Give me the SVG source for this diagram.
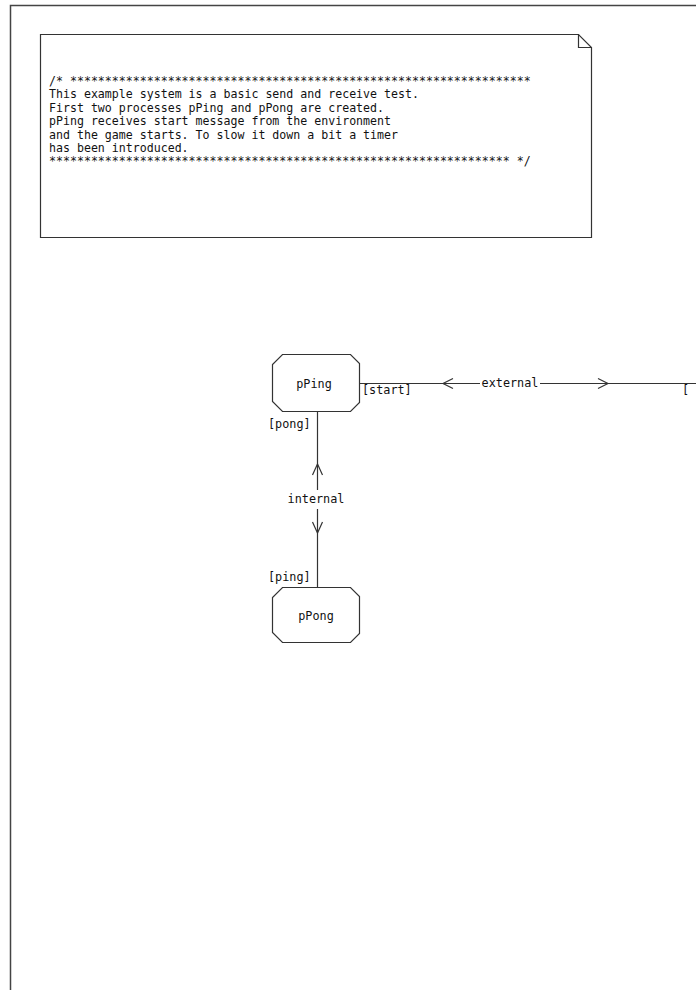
<svg xmlns="http://www.w3.org/2000/svg" width="696" height="990" viewBox="0 0 696 990">
<style>
.ln{fill:none;stroke:#333;stroke-width:1.2}
.nd{fill:#fff;stroke:#333;stroke-width:1.2}
.tx{font-family:"DejaVu Sans Mono","Liberation Mono",monospace;font-size:11.8px;fill:#111}
.cm{font-family:"DejaVu Sans Mono","Liberation Mono",monospace;font-size:11.6px;fill:#111;white-space:pre}
</style>
<rect x="0" y="0" width="696" height="990" fill="#fff"/>
<path id="frame" d="M10.5,1000 V5.5 H700" fill="none" stroke="#444" stroke-width="1.5"/>
<g id="comment">
<path class="nd" d="M40.5,34.5 H578.5 L591.5,47.5 V237.5 H40.5 Z"/>
<path class="ln" d="M578.5,34.5 V47.5 H591.5"/>
<text class="cm" x="49" y="85">/* ******************************************************************</text>
<text class="cm" x="49" y="98.4">This example system is a basic send and receive test.</text>
<text class="cm" x="49" y="111.8">First two processes pPing and pPong are created.</text>
<text class="cm" x="49" y="125.2">pPing receives start message from the environment</text>
<text class="cm" x="49" y="138.6">and the game starts. To slow it down a bit a timer</text>
<text class="cm" x="49" y="152">has been introduced.</text>
<text class="cm" x="49" y="165.4">****************************************************************** */</text>
</g>
<g id="connectors">
<g id="external">
<path class="ln" d="M360,383.5 H700"/>
<path class="ln" d="M453,378.5 L443,383.5 L453,388.5"/>
<path class="ln" d="M598,378.5 L608,383.5 L598,388.5"/>
<rect x="480" y="376" width="60" height="14" fill="#fff"/>
<text class="tx" x="510" y="387" text-anchor="middle">external</text>
<text class="tx" x="362" y="394">[start]</text>
<text class="tx" x="682" y="394">[</text>
</g>
<g id="internal">
<path class="ln" d="M317.5,412 V490 M317.5,509 V587"/>
<path class="ln" d="M312.5,475 L317.5,464 L322.5,475"/>
<path class="ln" d="M312.5,522 L317.5,533 L322.5,522"/>
<text class="tx" x="316" y="503" text-anchor="middle">internal</text>
<text class="tx" x="268" y="428">[pong]</text>
<text class="tx" x="268" y="581">[ping]</text>
</g>
</g>
<g id="pPing">
<path class="nd" d="M282.5,354.5 H350.5 L359.5,363.5 V402.5 L350.5,411.5 H282.5 L272.5,401.5 V364.5 Z"/>
<text class="tx" x="314" y="388" text-anchor="middle">pPing</text>
</g>
<g id="pPong">
<path class="nd" d="M282.5,587.5 H350.5 L359.5,596.5 V633.5 L350.5,642.5 H282.5 L272.5,632.5 V597.5 Z"/>
<text class="tx" x="316" y="620" text-anchor="middle">pPong</text>
</g>
</svg>
